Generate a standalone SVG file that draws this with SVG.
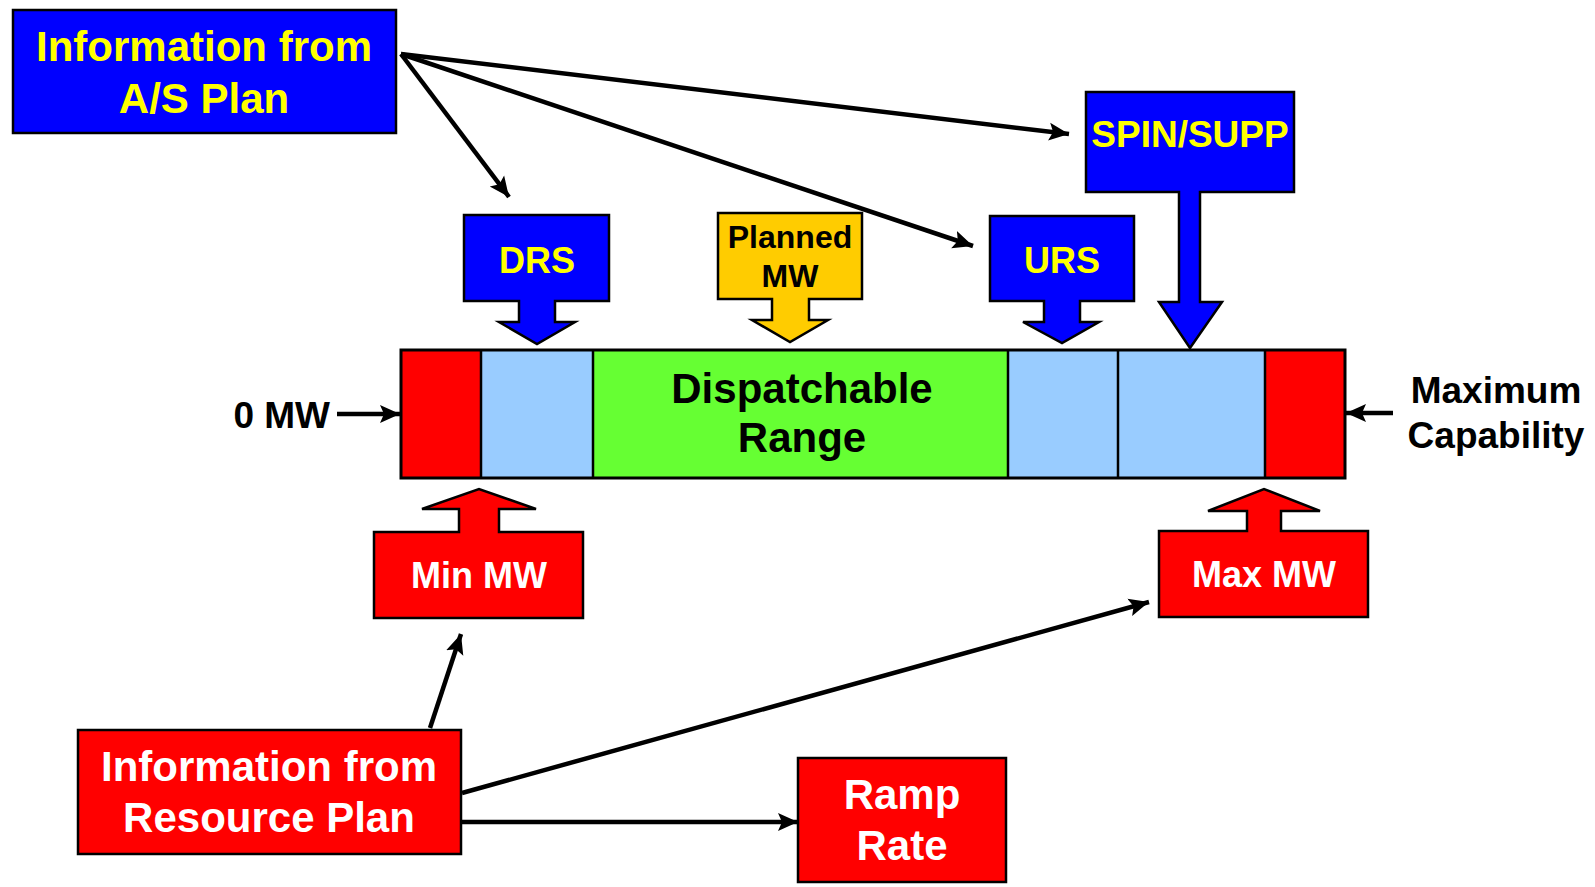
<svg xmlns="http://www.w3.org/2000/svg" width="1595" height="887" viewBox="0 0 1595 887">
<style>
text{font-family:"Liberation Sans",Arial,sans-serif;font-weight:bold;text-anchor:middle}
.box{stroke:#000;stroke-width:2.5;stroke-linejoin:miter}
.blue{fill:#0000FF}.red{fill:#FF0000}.gold{fill:#FFCC00}.lb{fill:#99CCFF}.grn{fill:#66FF33}
.ty{fill:#FFFF00}.tw{fill:#FFFFFF}.tk{fill:#000000}
.conn{stroke:#000;stroke-width:4.5;fill:none}
</style>
<defs>
<marker id="ah" markerUnits="userSpaceOnUse" markerWidth="22" markerHeight="20" refX="20" refY="10" orient="auto">
<path d="M0,1 L20,10 L0,19 L4,10 Z" fill="#000"/>
</marker>
</defs>
<rect width="1595" height="887" fill="#fff"/>

<g id="connectors">
<line class="conn" x1="401" y1="54" x2="509" y2="197" marker-end="url(#ah)"/>
<line class="conn" x1="401" y1="54" x2="973" y2="246" marker-end="url(#ah)"/>
<line class="conn" x1="401" y1="54" x2="1069" y2="134" marker-end="url(#ah)"/>
<line class="conn" x1="337" y1="414" x2="400" y2="414" marker-end="url(#ah)"/>
<line class="conn" x1="1393" y1="413" x2="1346" y2="413" marker-end="url(#ah)"/>
<line class="conn" x1="430" y1="728" x2="461" y2="634" marker-end="url(#ah)"/>
<line class="conn" x1="462" y1="793" x2="1149" y2="602" marker-end="url(#ah)"/>
<line class="conn" x1="462" y1="822" x2="798" y2="822" marker-end="url(#ah)"/>
</g>

<g id="as-plan">
<rect class="box blue" x="13" y="10" width="383" height="123"/>
<text class="ty" x="204" y="61" font-size="42">Information from</text>
<text class="ty" x="204" y="113" font-size="42">A/S Plan</text>
</g>

<g id="drs">
<path class="box blue" d="M464,215 H609 V301 H555 V322 H575 L537,344 L499,322 H519 V301 H464 Z"/>
<text class="ty" x="537" y="273" font-size="36">DRS</text>
</g>

<g id="planned-mw">
<path class="box gold" d="M718,213 H862 V299 H809 V320 H828 L790,342 L752,320 H772 V299 H718 Z"/>
<text class="tk" x="790" y="248" font-size="32">Planned</text>
<text class="tk" x="790" y="287" font-size="32">MW</text>
</g>

<g id="urs">
<path class="box blue" d="M990,216 H1134 V301 H1080 V322 H1099 L1062,343 L1023,322 H1044 V301 H990 Z"/>
<text class="ty" x="1062" y="273" font-size="36">URS</text>
</g>

<g id="spin-supp">
<path class="box blue" d="M1086,92 H1294 V192 H1200 V302 H1222 L1190,348 L1159,302 H1179 V192 H1086 Z"/>
<text class="ty" x="1190" y="147" font-size="37">SPIN/SUPP</text>
</g>

<g id="bar">
<rect class="red" x="401" y="350" width="80" height="128"/>
<rect class="lb" x="481" y="350" width="112" height="128"/>
<rect class="grn" x="593" y="350" width="415" height="128"/>
<rect class="lb" x="1008" y="350" width="110" height="128"/>
<rect class="lb" x="1118" y="350" width="147" height="128"/>
<rect class="red" x="1265" y="350" width="80" height="128"/>
<g stroke="#000" stroke-width="2.5">
<line x1="481" y1="350" x2="481" y2="478"/>
<line x1="593" y1="350" x2="593" y2="478"/>
<line x1="1008" y1="350" x2="1008" y2="478"/>
<line x1="1118" y1="350" x2="1118" y2="478"/>
<line x1="1265" y1="350" x2="1265" y2="478"/>
</g>
<rect x="401" y="350" width="944" height="128" fill="none" stroke="#000" stroke-width="3"/>
<text class="tk" x="802" y="403" font-size="42">Dispatchable</text>
<text class="tk" x="802" y="452" font-size="42">Range</text>
</g>

<g id="zero-mw">
<text class="tk" x="330" y="428" font-size="37" style="text-anchor:end">0 MW</text>
</g>

<g id="max-capability">
<text class="tk" x="1496" y="403" font-size="37">Maximum</text>
<text class="tk" x="1496" y="448" font-size="37">Capability</text>
</g>

<g id="min-mw">
<path class="box red" d="M374,618 H583 V532 H499 V509 H536 L479,489 L422,509 H459 V532 H374 Z"/>
<text class="tw" x="479" y="588" font-size="36">Min MW</text>
</g>

<g id="max-mw">
<path class="box red" d="M1159,617 H1368 V531 H1281 V511 H1320 L1264,489 L1208,511 H1247 V531 H1159 Z"/>
<text class="tw" x="1264" y="587" font-size="36">Max MW</text>
</g>

<g id="resource-plan">
<rect class="box red" x="78" y="730" width="383" height="124"/>
<text class="tw" x="269" y="781" font-size="42">Information from</text>
<text class="tw" x="269" y="832" font-size="42">Resource Plan</text>
</g>

<g id="ramp-rate">
<rect class="box red" x="798" y="758" width="208" height="124"/>
<text class="tw" x="902" y="809" font-size="42">Ramp</text>
<text class="tw" x="902" y="860" font-size="42">Rate</text>
</g>
</svg>
